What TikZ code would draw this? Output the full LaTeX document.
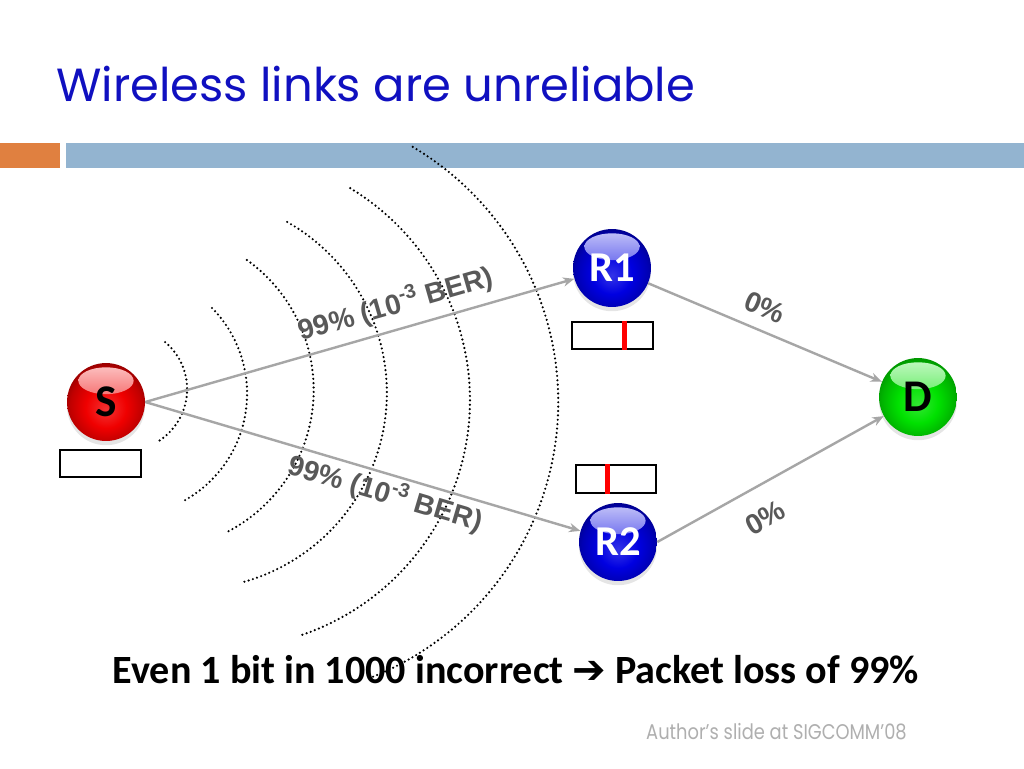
\documentclass[tikz,border=0pt]{standalone}
\usepackage{fontspec}
\newfontfamily\titlefont{Poppins}
\newfontfamily\footfont[FakeStretch=0.84]{Poppins}
\newfontfamily\calibri{Carlito}
\newfontfamily\arial{Liberation Sans}
\newfontfamily\symfont{DejaVu Sans}
\usetikzlibrary{arrows.meta,shadows}
\definecolor{titleblue}{RGB}{16,16,192}
\definecolor{barorange}{RGB}{224,128,64}
\definecolor{barblue}{RGB}{147,180,208}
\definecolor{linkgray}{RGB}{166,166,166}
\definecolor{labelgray}{RGB}{89,89,89}
\definecolor{footgray}{RGB}{175,175,175}
\definecolor{ballred}{RGB}{240,0,0}
\definecolor{ballblue}{RGB}{0,0,225}
\definecolor{ballgreen}{RGB}{0,225,0}
% glossy balls: bright glow low in the ball, dark rim
\pgfdeclareradialshading{ballredshade}{\pgfpoint{0bp}{-5bp}}{color(0bp)=(ballred!80!white); color(13bp)=(ballred); color(23bp)=(ballred!80!black); color(30bp)=(ballred!55!black); color(50bp)=(ballred!55!black)}
\pgfdeclareradialshading{ballblueshade}{\pgfpoint{0bp}{-5bp}}{color(0bp)=(ballblue!80!white); color(13bp)=(ballblue); color(23bp)=(ballblue!80!black); color(30bp)=(ballblue!55!black); color(50bp)=(ballblue!55!black)}
\pgfdeclareradialshading{ballgreenshade}{\pgfpoint{0bp}{-5bp}}{color(0bp)=(ballgreen!80!white); color(13bp)=(ballgreen); color(23bp)=(ballgreen!80!black); color(30bp)=(ballgreen!60!black); color(50bp)=(ballgreen!60!black)}
\begin{document}
\begin{tikzpicture}[x=0.7058pt,y=-0.7058pt,
    sphere/.style={circle, inner sep=0pt, minimum size=55pt, shade, shading=#1shade,
      drop shadow={shadow xshift=0pt, shadow yshift=-3pt, opacity=0.2},
      path picture={\shade[top color=white!78!#1, bottom color=#1]
        ([yshift=-12.5pt]path picture bounding box.north) ellipse[x radius=19.5pt, y radius=9.5pt];},
      font=\calibri\bfseries\fontsize{32}{32}\selectfont},
    router/.style={sphere=ballblue, text=white, font=\calibri\bfseries\fontsize{30}{30}\selectfont},
    buffer/.style={draw, line width=1.5pt, minimum width=57pt, minimum height=19.5pt, inner sep=0pt},
    errbit/.style={draw=red, line width=3.5pt},
    link/.style={draw=linkgray, line width=1.7pt, -{Stealth[length=8pt,width=6.5pt]}},
    linklabel/.style={font=\arial\bfseries\fontsize{20}{20}\selectfont, text=labelgray, sloped},
    wave/.style={line width=1.7pt, dash pattern=on 0pt off 3.1pt, line cap=round}]
    \useasboundingbox[fill=white] (0,0) rectangle (1024,768);
    % header
    \node[anchor=base west, inner sep=0pt, text=titleblue, font=\titlefont\fontsize{32.8}{32.8}\selectfont] (title) at (56,101) {Wireless links are unreliable};
    \fill[barorange] (0,143) rectangle (60,168);
    \fill[barblue] (66,143) rectangle (1024,168);
    % radio waves round S
    \foreach \cx/\cy/\r/\a/\b in {125.6/389.2/61.5/-50/59, 124.8/393.7/122.3/-44.5/60.5,
        153.9/389.9/159.8/-54.4/63.6, 190.5/392.9/196.4/-60.5/74.5,
        222.2/400.3/247.8/-58.9/71.2, 261.9/402.0/296.4/-59.4/68.6}
      \draw[wave] plot[domain=\a:\b, samples=60, variable=\t] ({\cx+\r*cos(\t)}, {\cy+\r*sin(\t)});
    % nodes
    \node[sphere=ballred] (S) at (106,402) {S};
    \node[router] (R1) at (612,268) {R1};
    \node[router] (R2) at (618,542) {R2};
    \node[sphere=ballgreen] (D) at (918,397) {D};
    \node[buffer] (bufS) at (100.5,463.5) {};
    \node[buffer] (bufR1) at (612.5,335.5) {};
    \node[buffer] (bufR2) at (616,479) {};
    \draw[errbit] ([xshift=8.6pt]bufR1.north) -- ([xshift=8.6pt]bufR1.south);
    \draw[errbit] ([xshift=-5.9pt]bufR2.north) -- ([xshift=-5.9pt]bufR2.south);
    % links
    \draw[link] (S.east) -- (R1) node[linklabel, above, pos=0.6, inner sep=6pt] {99\% (10\textsuperscript{-3} BER)};
    \draw[link] (S.east) -- (R2) node[linklabel, below, pos=0.565, inner sep=2pt] {99\% (10\textsuperscript{-3} BER)};
    \draw[link] (R1) -- (D) node[linklabel, above, pos=0.46, inner sep=8.5pt] {0\%};
    \draw[link] (R2.east) -- (D) node[linklabel, below, pos=0.41, inner sep=14pt] {0\%};
    % footer
    \node[anchor=base, inner sep=0pt, font=\calibri\bfseries\fontsize{28.3}{28.3}\selectfont] (claim) at (516,683) {Even 1 bit in 1000 incorrect {\symfont ➔} Packet loss of 99\%};
    \node[anchor=base east, inner sep=0pt, text=footgray, font=\footfont\fontsize{15}{15}\selectfont] (credit) at (907,739) {Author’s slide at SIGCOMM’08};
\end{tikzpicture}
\end{document}
